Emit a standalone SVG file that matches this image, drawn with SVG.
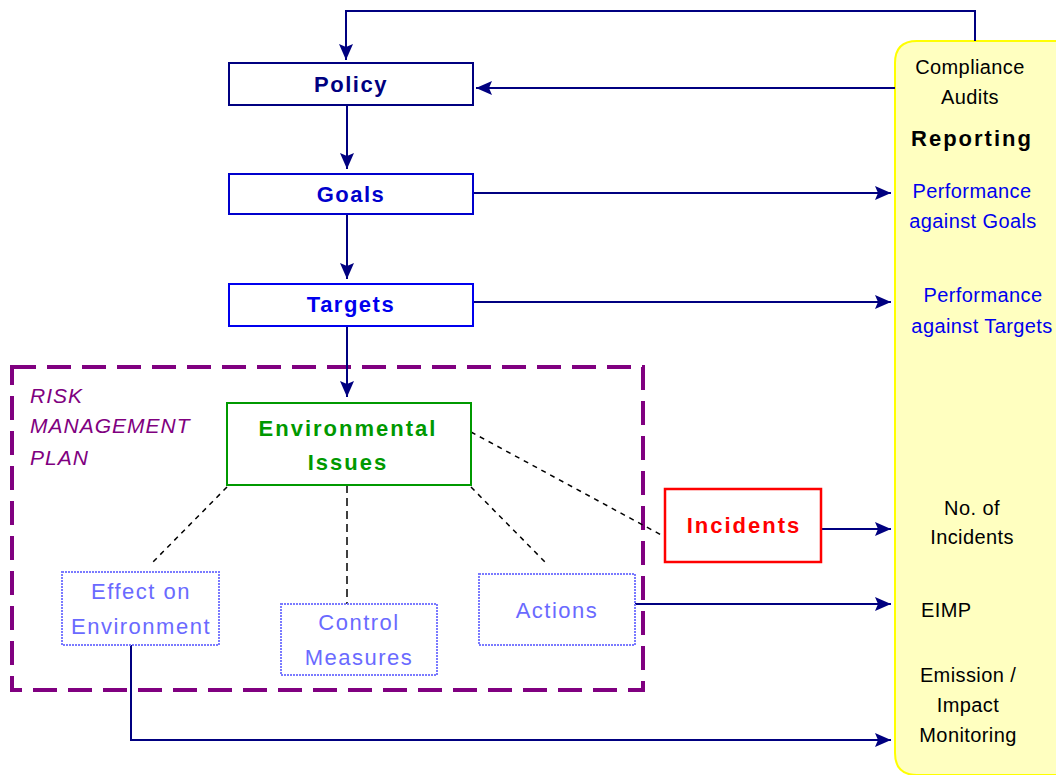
<svg xmlns="http://www.w3.org/2000/svg" width="1056" height="775" viewBox="0 0 1056 775">
<style>
.nav{fill:none;stroke:#000080;stroke-width:2}
.dot{fill:none;stroke:#000;stroke-width:1.5;stroke-dasharray:5,5}
.mainbox{fill:#fff;stroke:#000080;stroke-width:2}
.main{font-family:"Liberation Sans",Arial,sans-serif;font-weight:bold;font-size:22px;letter-spacing:1.5px;text-anchor:middle}
.sub{font-family:"Liberation Sans",Arial,sans-serif;font-size:22px;letter-spacing:1.5px;fill:#6a6aff;text-anchor:middle}
.subbox{fill:#fff;stroke:#7a7aff;stroke-width:2;stroke-dasharray:2,1}
.rep{font-family:"Liberation Sans",Arial,sans-serif;font-size:20px;letter-spacing:0.4px;text-anchor:middle;fill:#000}
.repb{fill:#0000ee}
.risk{font-family:"Liberation Sans",Arial,sans-serif;font-style:italic;font-size:21px;letter-spacing:1px;fill:#800080}
</style>
<defs>
<marker id="ah" markerUnits="userSpaceOnUse" markerWidth="18" markerHeight="14" refX="16" refY="7" orient="auto">
<path d="M0,0 L16,7 L0,14 L3,7 z" fill="#000080"/>
</marker>
</defs>
<g id="reporting">
<path d="M1080,41 L917,41 Q895,41 895,63 L895,753 Q895,775 917,775 L1080,775" fill="#ffffc0" stroke="#ffff00" stroke-width="2"/>
<text class="rep" x="970" y="74">Compliance</text>
<text class="rep" x="970" y="104">Audits</text>
<text class="rep" x="972" y="146" style="font-weight:bold;font-size:22px;letter-spacing:2px">Reporting</text>
<text class="rep repb" x="972" y="198">Performance</text>
<text class="rep repb" x="973" y="228">against Goals</text>
<text class="rep repb" x="983" y="302">Performance</text>
<text class="rep repb" x="982" y="333">against Targets</text>
<text class="rep" x="972" y="515">No. of</text>
<text class="rep" x="972" y="544">Incidents</text>
<text class="rep" x="921" y="617" style="text-anchor:start">EIMP</text>
<text class="rep" x="968" y="682">Emission /</text>
<text class="rep" x="968" y="712">Impact</text>
<text class="rep" x="968" y="742">Monitoring</text>
</g>
<g id="risk-plan">
<rect x="12" y="367" width="631" height="323" fill="none" stroke="#800080" stroke-width="4" stroke-dasharray="24,11"/>
<text class="risk" x="30" y="403">RISK</text>
<text class="risk" x="30" y="433">MANAGEMENT</text>
<text class="risk" x="30" y="465">PLAN</text>
</g>
<g id="connectors">
<path class="nav" d="M975,41 V11 H346 V60" marker-end="url(#ah)"/>
<path class="nav" d="M895,88 H476" marker-end="url(#ah)"/>
<path class="nav" d="M347,105 V169" marker-end="url(#ah)"/>
<path class="nav" d="M347,214 V279" marker-end="url(#ah)"/>
<path class="nav" d="M347,326 V397" marker-end="url(#ah)"/>
<path class="nav" d="M473,193 H891" marker-end="url(#ah)"/>
<path class="nav" d="M473,302 H891" marker-end="url(#ah)"/>
<path class="nav" d="M821,529 H891" marker-end="url(#ah)"/>
<path class="nav" d="M635,604 H891" marker-end="url(#ah)"/>
<path class="nav" d="M131,645 V740 H891" marker-end="url(#ah)"/>
<path class="dot" d="M227,487 L150,565"/>
<path class="dot" d="M347,485 V604" style="stroke-dasharray:8,5"/>
<path class="dot" d="M471,487 L545,562"/>
<path class="dot" d="M471,432 L665,537"/>
</g>
<g id="policy">
<rect class="mainbox" x="229" y="63" width="244" height="42"/>
<text class="main" x="351" y="92" fill="#000080">Policy</text>
</g>
<g id="goals">
<rect class="mainbox" x="229" y="174" width="244" height="40" style="stroke:#0000cc"/>
<text class="main" x="351" y="202" fill="#0000cc">Goals</text>
</g>
<g id="targets">
<rect class="mainbox" x="229" y="284" width="244" height="42" style="stroke:#0000ee"/>
<text class="main" x="351" y="312" fill="#0000ee">Targets</text>
</g>
<g id="env-issues">
<rect x="227" y="403" width="244" height="82" fill="#fff" stroke="#009900" stroke-width="2"/>
<text class="main" x="348" y="436" fill="#009900" style="letter-spacing:2px">Environmental</text>
<text class="main" x="348" y="470" fill="#009900" style="letter-spacing:2px">Issues</text>
</g>
<g id="incidents">
<rect x="665" y="489" width="156" height="73" fill="#fff" stroke="#ff0000" stroke-width="2.5"/>
<text class="main" x="744" y="533" fill="#ff0000" style="letter-spacing:2px">Incidents</text>
</g>
<g id="effect">
<rect class="subbox" x="62" y="572" width="157" height="73"/>
<text class="sub" x="141" y="599">Effect on</text>
<text class="sub" x="141" y="634">Environment</text>
</g>
<g id="control">
<rect class="subbox" x="281" y="604" width="156" height="71"/>
<text class="sub" x="359" y="630">Control</text>
<text class="sub" x="359" y="665">Measures</text>
</g>
<g id="actions">
<rect class="subbox" x="479" y="574" width="156" height="71"/>
<text class="sub" x="557" y="618">Actions</text>
</g>
</svg>
